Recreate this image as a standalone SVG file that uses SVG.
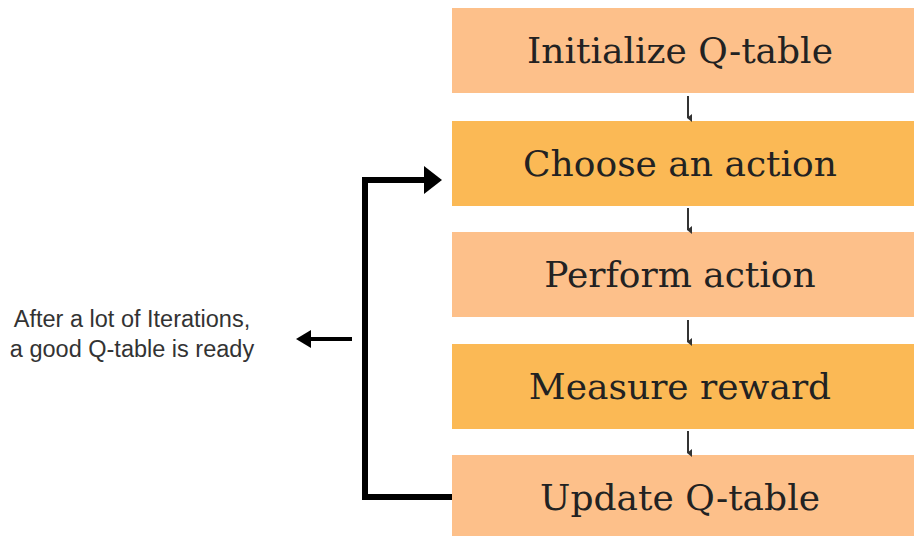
<svg xmlns="http://www.w3.org/2000/svg" width="914" height="536" viewBox="0 0 914 536">
<defs>
<style>
.light{fill:#FDC08A}
.dark{fill:#FBB955}
.lbl{font-family:"DejaVu Serif","Liberation Serif",serif;font-size:36px;fill:#222;text-anchor:middle}
.note{font-family:"Liberation Sans",Arial,sans-serif;font-size:23.5px;fill:#333;text-anchor:middle}
.thin{stroke:#333;stroke-width:2;fill:none}
.thick{stroke:#000;stroke-width:6;fill:none}
</style>
<marker id="sm" markerWidth="8" markerHeight="8" refX="4" refY="6" orient="auto" markerUnits="userSpaceOnUse" viewBox="0 0 8 8">
<path d="M0,2 L8,2 L4,7 Z" fill="#333"/>
</marker>
</defs>
<rect width="914" height="536" fill="#fff"/>
<g id="n1"><rect class="light" x="452" y="8" width="462" height="85"/><text class="lbl" x="680" y="63">Initialize Q-table</text></g>
<g id="n2"><rect class="dark" x="452" y="121" width="462" height="85"/><text class="lbl" x="680" y="176">Choose an action</text></g>
<g id="n3"><rect class="light" x="452" y="232" width="462" height="85"/><text class="lbl" x="680" y="287">Perform action</text></g>
<g id="n4"><rect class="dark" x="452" y="344" width="462" height="85"/><text class="lbl" x="680" y="399">Measure reward</text></g>
<g id="n5"><rect class="light" x="452" y="455" width="462" height="81"/><text class="lbl" x="680" y="510">Update Q-table</text></g>
<g id="note"><text class="note" x="132" y="327">After a lot of Iterations,</text><text class="note" x="132" y="357">a good Q-table is ready</text></g>
<g id="connectors">
<line class="thin" x1="688" y1="96" x2="688" y2="118" marker-end="url(#sm)"/>
<line class="thin" x1="688" y1="208" x2="688" y2="230" marker-end="url(#sm)"/>
<line class="thin" x1="688" y1="320" x2="688" y2="342" marker-end="url(#sm)"/>
<line class="thin" x1="688" y1="431" x2="688" y2="453" marker-end="url(#sm)"/>
<path class="thick" d="M452,497 H365 V180 H428"/>
<path d="M424,166 L442,180 L424,194 Z" fill="#000"/>
<line x1="352" y1="339" x2="310" y2="339" stroke="#000" stroke-width="4"/>
<path d="M296,339 L311,330 L311,348 Z" fill="#000"/>
</g>
</svg>
